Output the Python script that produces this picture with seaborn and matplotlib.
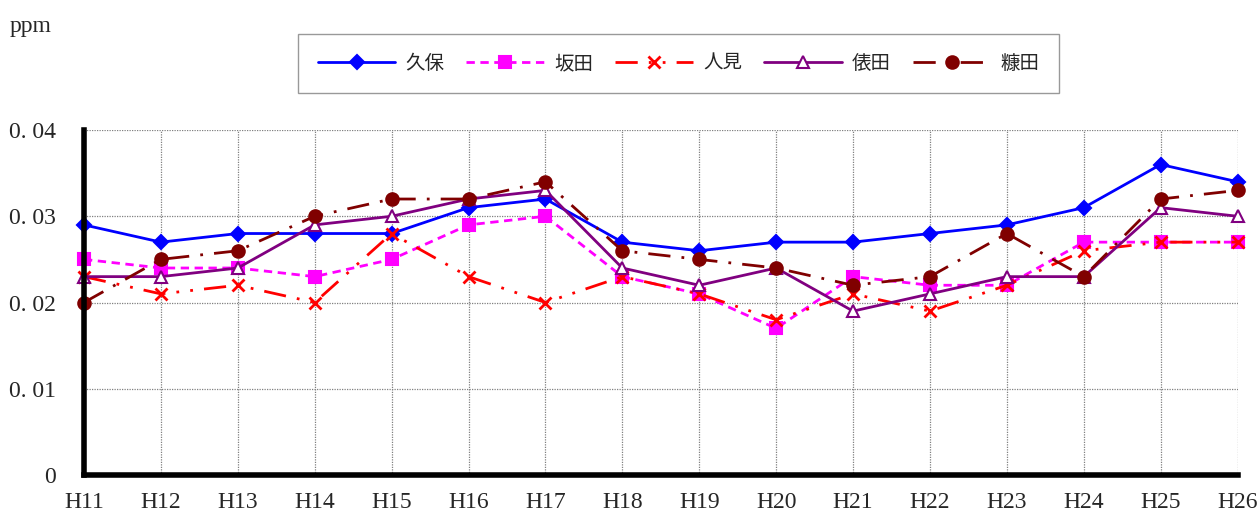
import pandas as pd
import matplotlib
matplotlib.use("Agg")
import matplotlib.pyplot as plt
import seaborn as sns

# ==========================================
# DATA
# ==========================================
years = ["H11", "H12", "H13", "H14", "H15", "H16", "H17", "H18",
         "H19", "H20", "H21", "H22", "H23", "H24", "H25", "H26"]

kubo = [0.029, 0.027, 0.028, 0.028, 0.028, 0.031, 0.032, 0.027,
        0.026, 0.027, 0.027, 0.028, 0.029, 0.031, 0.036, 0.034]
sakata = [0.025, 0.024, 0.024, 0.023, 0.025, 0.029, 0.030, 0.023,
          0.021, 0.017, 0.023, 0.022, 0.022, 0.027, 0.027, 0.027]
hitomi = [0.023, 0.021, 0.022, 0.020, 0.028, 0.023, 0.020, 0.023,
          0.021, 0.018, 0.021, 0.019, 0.022, 0.026, 0.027, 0.027]
tawarada = [0.023, 0.023, 0.024, 0.029, 0.030, 0.032, 0.033, 0.024,
            0.022, 0.024, 0.019, 0.021, 0.023, 0.023, 0.031, 0.030]
nukata = [0.020, 0.025, 0.026, 0.030, 0.032, 0.032, 0.034, 0.026,
          0.025, 0.024, 0.022, 0.023, 0.028, 0.023, 0.032, 0.033]

series_names = ["久保", "坂田", "人見", "俵田", "糠田"]
y_ticks = [0, 0.01, 0.02, 0.03, 0.04]
y_tick_labels = ["0", "0. 01", "0. 02", "0. 03", "0. 04"]

# ==========================================
# STYLE
# ==========================================
sns.set_style("white")
plt.rcParams['font.family'] = ['Liberation Serif', 'Noto Sans CJK JP', 'DejaVu Sans']

styles = {
    "久保": dict(color="#0000ff", marker="D", ms=7, ls="-", mfc="#0000ff"),
    "坂田": dict(color="#ff00ff", marker="s", ms=8, ls=(0, (3, 2)), mfc="#ff00ff"),
    "人見": dict(color="#ff0000", marker="x", ms=9, ls=(0, (8, 4, 1, 4, 1, 4)), mfc="#ff0000"),
    "俵田": dict(color="#800080", marker="^", ms=8, ls="-", mfc="white"),
    "糠田": dict(color="#800000", marker="o", ms=9, ls=(0, (8, 4, 1, 4)), mfc="#800000"),
}
values = dict(zip(series_names, [kubo, sakata, hitomi, tawarada, nukata]))

fig = plt.figure(figsize=(12.59, 5.16), dpi=100)
ax = fig.add_axes([0.0667, 0.0795, 0.9163, 0.6685])

x_pos = list(range(len(years)))
for name in series_names:
    st = styles[name]
    df = pd.DataFrame({"x": x_pos, "y": values[name]})
    sns.lineplot(data=df, x="x", y="y", ax=ax, color=st["color"], linewidth=2,
                 linestyle=st["ls"], marker=st["marker"], markersize=st["ms"],
                 markerfacecolor=st["mfc"], markeredgecolor=st["color"],
                 markeredgewidth=1.5 if st["marker"] != "x" else 2,
                 label=name, clip_on=False)

ax.set_xlim(0, len(years) - 1)
ax.set_ylim(0, 0.04)
ax.set_xticks(x_pos)
ax.set_xticklabels(years, fontsize=17, family='Liberation Serif')
ax.set_yticks(y_ticks)
ax.set_yticklabels(y_tick_labels, fontsize=17, family='Liberation Serif')
ax.set_xlabel("")
ax.set_ylabel("")
ax.tick_params(axis='both', direction='in', length=4, width=3, color='black')
ax.tick_params(axis='x', pad=12)
ax.tick_params(axis='y', pad=20)

ax.grid(True, color='#808080', linestyle=(0, (1, 1)), linewidth=0.9)
for side in ["top", "right"]:
    ax.spines[side].set_visible(False)
for side in ["left", "bottom"]:
    ax.spines[side].set_linewidth(4)
    ax.spines[side].set_color('black')

fig.text(0.008, 0.948, "ppm", fontsize=17, family='Liberation Serif', va='center')

leg = ax.legend(loc='center', bbox_to_anchor=(0.539, 0.877), bbox_transform=fig.transFigure,
                ncol=5, frameon=True, fancybox=False, edgecolor='#808080',
                prop={'family': ['Noto Sans CJK JP'], 'size': 14},
                handlelength=4.0, columnspacing=1.15, borderpad=1.0, handletextpad=0.5)
leg.get_frame().set_linewidth(1)

fig.savefig("out.png", dpi=100)
